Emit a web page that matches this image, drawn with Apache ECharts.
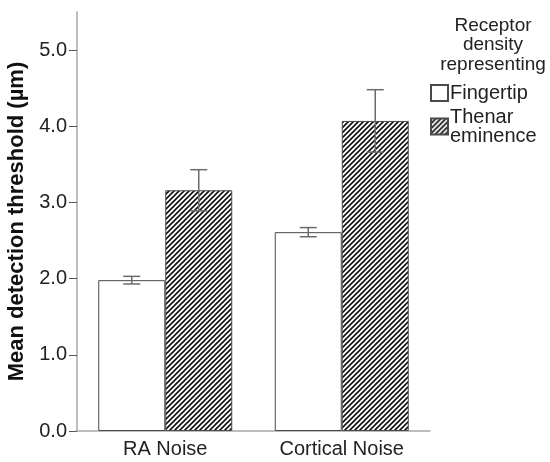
<!DOCTYPE html>
<html>
<head>
<meta charset="utf-8">
<script src="https://cdn.jsdelivr.net/npm/echarts@6/dist/echarts.min.js"></script>
<style>
  html, body { margin: 0; padding: 0; background: #fff; }
  #chart { width: 550px; height: 462px; }
</style>
</head>
<body>
<div id="chart"></div>
<script>
// Mean detection thresholds (µm) with error bar half-widths
const categories = ['RA Noise', 'Cortical Noise'];
const fingertipMean = [1.98, 2.61];
const fingertipErr = [0.05, 0.06];
const thenarMean = [3.16, 4.07];
const thenarErr = [0.27, 0.41];
const yTicks = [0, 1, 2, 3, 4, 5];
const seriesNames = ['Fingertip', 'Thenar\neminence'];
const legendTitle = 'Receptor\ndensity\nrepresenting';

const BAR_W = 67;
const FONT = '"Liberation Sans", Arial, sans-serif';

// Diagonal hatch fill for the thenar eminence bars
function makeHatch() {
  const s = 5;
  const c = document.createElement('canvas');
  c.width = s; c.height = s;
  const g = c.getContext('2d');
  g.fillStyle = '#fff';
  g.fillRect(0, 0, s, s);
  g.strokeStyle = '#111';
  g.lineWidth = 1.6;
  g.beginPath();
  g.moveTo(-1, s + 1); g.lineTo(s + 1, -1);
  g.moveTo(-1, 1); g.lineTo(1, -1);
  g.moveTo(s - 1, s + 1); g.lineTo(s + 1, s - 1);
  g.stroke();
  return c;
}
const hatch = { image: makeHatch(), repeat: 'repeat' };

// Error bars drawn at each bar's centre, shifted left/right within the group
function errorSeries(means, errs, side) {
  return {
    type: 'custom',
    silent: true,
    z: 5,
    data: means.map((m, i) => [i, m - errs[i], m + errs[i]]),
    renderItem: function (params, api) {
      const lo = api.coord([api.value(0), api.value(1)]);
      const hi = api.coord([api.value(0), api.value(2)]);
      const x = lo[0] + side * BAR_W / 2;
      const cap = 8.5;
      const style = { stroke: '#6b6b6b', lineWidth: 1.5, fill: null };
      return {
        type: 'group',
        children: [
          { type: 'line', shape: { x1: x, y1: lo[1], x2: x, y2: hi[1] }, style },
          { type: 'line', shape: { x1: x - cap, y1: lo[1], x2: x + cap, y2: lo[1] }, style },
          { type: 'line', shape: { x1: x - cap, y1: hi[1], x2: x + cap, y2: hi[1] }, style }
        ]
      };
    }
  };
}

const chart = echarts.init(document.getElementById('chart'), null, { renderer: 'canvas' });
chart.setOption({
  animation: false,
  backgroundColor: '#fff',
  textStyle: { fontFamily: FONT },
  title: {
    text: legendTitle,
    left: 493,
    top: 16,
    padding: 0,
    textAlign: 'center',
    textStyle: { fontFamily: FONT, fontSize: 19, fontWeight: 'normal', color: '#222', lineHeight: 19.5, align: 'center' }
  },
  legend: {
    orient: 'vertical',
    left: 430,
    top: 83,
    padding: 0,
    itemWidth: 17,
    itemHeight: 16,
    itemGap: 4,
    icon: 'rect',
    data: seriesNames,
    textStyle: { fontFamily: FONT, fontSize: 20, color: '#222', lineHeight: 19, padding: [0, 0, 0, -3] }
  },
  grid: { left: 77, right: 120, top: 12, bottom: 31, containLabel: false, outerBoundsMode: 'none' },
  xAxis: {
    type: 'category',
    data: categories,
    axisLine: { lineStyle: { color: '#a8a8a8', width: 1.5 } },
    axisTick: { alignWithLabel: true, length: 5, lineStyle: { color: '#555' } },
    axisLabel: { fontFamily: FONT, fontSize: 20, color: '#222', margin: 8 }
  },
  yAxis: {
    type: 'value',
    min: 0,
    max: 5.5,
    interval: 1,
    name: 'Mean detection threshold (µm)',
    nameLocation: 'middle',
    nameGap: 38,
    nameTextStyle: { fontFamily: FONT, fontSize: 22, fontWeight: 'bold', color: '#111' },
    splitLine: { show: false },
    axisLine: { show: true, lineStyle: { color: '#a8a8a8', width: 1.5 } },
    axisTick: { show: true, length: 8, customValues: yTicks, lineStyle: { color: '#555' } },
    axisLabel: {
      fontFamily: FONT, fontSize: 20, color: '#222', margin: 10,
      customValues: yTicks,
      formatter: v => v.toFixed(1)
    }
  },
  series: [
    {
      name: seriesNames[0],
      type: 'bar',
      barWidth: BAR_W,
      barGap: '0%',
      data: fingertipMean,
      itemStyle: { color: '#fff', borderColor: '#4a4a4a', borderWidth: 1 }
    },
    {
      name: seriesNames[1],
      type: 'bar',
      barWidth: BAR_W,
      barGap: '0%',
      data: thenarMean,
      itemStyle: { color: hatch, borderColor: '#4a4a4a', borderWidth: 1 }
    },
    errorSeries(fingertipMean, fingertipErr, -1),
    errorSeries(thenarMean, thenarErr, 1)
  ]
});
</script>
</body>
</html>
